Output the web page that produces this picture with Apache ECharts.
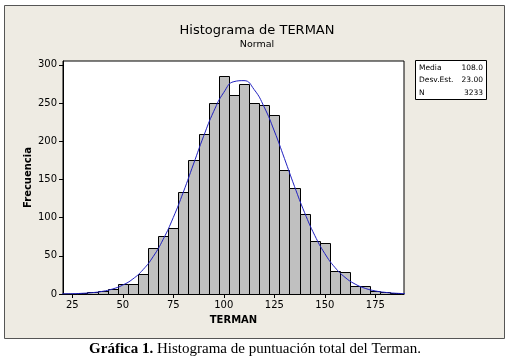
<!DOCTYPE html>
<html><head><meta charset="utf-8">
<script src="https://cdn.jsdelivr.net/npm/echarts@6/dist/echarts.min.js"></script>
<style>html,body{margin:0;padding:0;background:#fff;}#c{width:510px;height:362px;}</style>
</head><body><div id="c"></div>
<script>
// Histogram bins (centre of each 5-unit bin) and counts
const binCenters = [30,35,40,45,50,55,60,65,70,75,80,85,90,95,100,105,110,115,120,125,130,135,140,145,150,155,160,165,170,175,180,185];
const binCounts  = [1,2,4,7,13,13,26,60,76,87,134,176,209,250,285,261,275,250,247,234,162,139,105,69,67,30,29,11,10,4,2,1];
const binWidth = 5;
// Fitted normal curve
const curveX = [20,25,30,35,40,45,50,55,60,65,70,75,80,85,90,95,100,105,110,115,120,125,130,135,140,145,150,155,160,165,170,175,180,185,190];
const curveY = [0.2,0.4,0.9,1.8,3.5,6.6,11.7,19.7,31.8,48.8,71.6,100.2,133.6,170.1,206.5,239.0,263.9,278.0,279.3,267.7,244.7,213.4,177.5,140.8,106.5,76.8,52.9,34.8,21.8,13.0,7.4,4.0,2.1,1.0,0.5];
const xTicks = [25,50,75,100,125,150,175];
const yTicks = [0,50,100,150,200,250,300];
const statLabels = ['Media','Desv.Est.','N'];
const statValues = ['108.0','23.00','3233'];

const chart = echarts.init(document.getElementById('c'));
const font = 'DejaVu Sans';
const statsGraphics = [];
statLabels.forEach((l,i)=>{
  statsGraphics.push({type:'text',left:419,top:64+i*12.5,style:{text:l,font:'7.5px "DejaVu Sans"',fill:'#000'}});
  statsGraphics.push({type:'text',right:27,top:64+i*12.5,style:{text:statValues[i],font:'7.5px "DejaVu Sans"',fill:'#000',align:'right'}});
});
chart.setOption({
  animation:false,
  backgroundColor:'#fff',
  title:{text:'Histograma de TERMAN',subtext:'Normal',left:252,textAlign:'center',top:19,itemGap:3,
    textStyle:{fontFamily:font,fontSize:13,fontWeight:'normal',color:'#000'},
    subtextStyle:{fontFamily:font,fontSize:9.5,color:'#000'}},
  graphic:[
    {type:'rect',z:-10,shape:{x:4.5,y:5.5,width:500,height:333},style:{fill:'#EEEBE3',stroke:'#555',lineWidth:1}},
    {type:'rect',z:5,shape:{x:415.5,y:60.5,width:71,height:39},style:{fill:'#fff',stroke:'#000',lineWidth:1}},
    ...statsGraphics.map(g=>Object.assign(g,{z:6})),
    {type:'text',left:'center',top:342,style:{
      text:'{b|Gráfica 1.} Histograma de puntuación total del Terman.',
      rich:{b:{fontFamily:'Liberation Serif',fontWeight:'bold',fontSize:15,fill:'#000'}},
      fontFamily:'Liberation Serif',fontSize:15,fill:'#000'}}
  ],
  grid:{left:63,top:61,width:341,height:233,show:true,backgroundColor:'#fff',borderColor:'#000',borderWidth:1},
  xAxis:{type:'value',min:20.4,max:189.2,name:'TERMAN',nameLocation:'middle',nameGap:21,nameMoveOverlap:false,
    nameTextStyle:{fontFamily:font,fontSize:10,fontWeight:'bold',color:'#000'},
    axisLine:{show:true,lineStyle:{color:'#000'}},
    axisTick:{show:true,length:4,lineStyle:{color:'#000'},customValues:xTicks},
    axisLabel:{fontFamily:font,fontSize:10,color:'#000',margin:6,customValues:xTicks},
    splitLine:{show:false}},
  yAxis:{type:'value',min:0,max:305,name:'Frecuencia',nameLocation:'middle',nameGap:30,nameMoveOverlap:false,
    nameTextStyle:{fontFamily:font,fontSize:10,fontWeight:'bold',color:'#000'},
    axisLine:{show:true,lineStyle:{color:'#000'}},
    axisTick:{show:true,length:4,lineStyle:{color:'#000'},customValues:yTicks},
    axisLabel:{fontFamily:font,fontSize:10,color:'#000',margin:6,customValues:yTicks},
    splitLine:{show:false}},
  series:[
    {type:'custom',data:binCenters.map((c,i)=>[c,binCounts[i]]),
      renderItem:(params,api)=>{
        const c=api.value(0),v=api.value(1);
        const p1=api.coord([c-binWidth/2,v]);const p2=api.coord([c+binWidth/2,0]);
        return {type:'rect',shape:{x:Math.round(p1[0])+0.5,y:Math.round(p1[1])+0.5,width:Math.round(p2[0])-Math.round(p1[0]),height:Math.round(p2[1])-Math.round(p1[1])},
          style:{fill:'#C0C0C0',stroke:'#000',lineWidth:1}};
      },z:2},
    {type:'line',data:curveX.map((x,i)=>[x,curveY[i]]),smooth:true,symbol:'none',clip:true,
      lineStyle:{color:'#2020C0',width:1},z:3}
  ]
});
</script></body></html>
